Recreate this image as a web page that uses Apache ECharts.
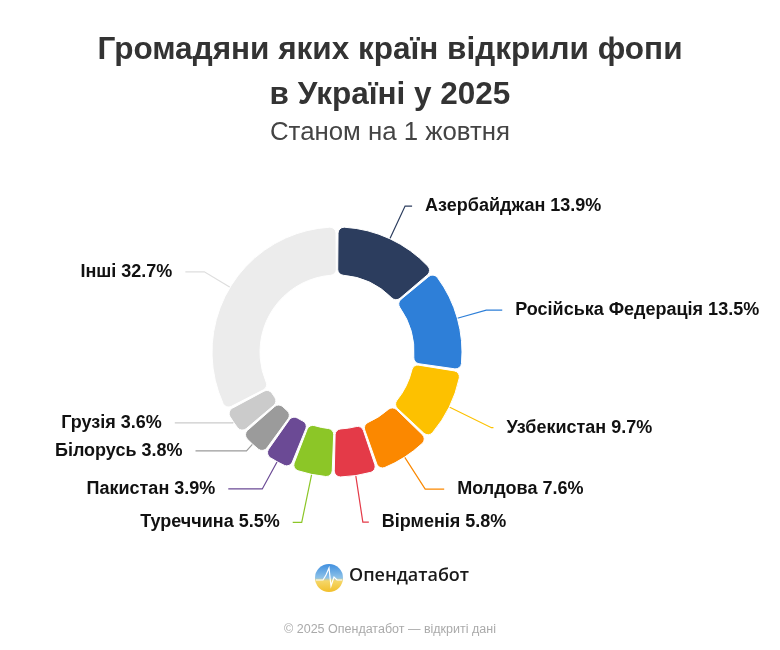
<!DOCTYPE html>
<html>
<head>
<meta charset="utf-8">
<script src="https://cdn.jsdelivr.net/npm/echarts@6/dist/echarts.min.js"></script>
<style>
  html, body { margin: 0; padding: 0; background: #fff; }
  #chart { width: 780px; height: 650px; }
</style>
</head>
<body>
<div id="chart"></div>
<script>
// дані з картинки, по годинниковій стрілці від верху
var countries = ["Азербайджан", "Російська Федерація", "Узбекистан", "Молдова", "Вірменія",
  "Туреччина", "Пакистан", "Білорусь", "Грузія", "Інші"];
var shares = [13.9, 13.5, 9.7, 7.6, 5.8, 5.5, 3.9, 3.8, 3.6, 32.7];

// стиль: кольори та довжини ліній підписів
var colors = ["#2c3d5e", "#2e7fd8", "#fdc100", "#fb8800", "#e43a48",
  "#8cc627", "#6b4a95", "#9b9b9b", "#cbcbcb", "#ececec"];
var lineLen = [36, 30, 47, 38, 47, 49, 31, 9, 1, 30];
var lineLen2 = [7, 16, 2, 19, 6, 9, 34, 51, 58, 19];

var chart = echarts.init(document.getElementById("chart"));

var pieData = countries.map(function (name, i) {
  return {
    name: name,
    value: shares[i],
    itemStyle: { color: colors[i] },
    labelLine: {
      length: lineLen[i],
      length2: lineLen2[i],
      lineStyle: { color: colors[i] === "#ececec" ? "#dedede" : colors[i] }
    }
  };
});

var option = {
  backgroundColor: "#fff",
  animation: false,
  title: [
    {
      text: "Громадяни яких країн відкрили фопи\nв Україні у 2025",
      left: "center",
      top: 23,
      textStyle: {
        fontFamily: "Liberation Sans",
        fontWeight: "bold",
        fontSize: 31.5,
        lineHeight: 45,
        color: "#333"
      }
    },
    {
      text: "Станом на 1 жовтня",
      left: "center",
      top: 115,
      textStyle: {
        fontFamily: "Liberation Sans",
        fontWeight: "normal",
        fontSize: 25.8,
        color: "#444"
      }
    },
    {
      text: "© 2025 Опендатабот — відкриті дані",
      left: "center",
      top: 618,
      textStyle: {
        fontFamily: "Liberation Sans",
        fontWeight: "normal",
        fontSize: 12.5,
        color: "#aaa"
      }
    }
  ],
  graphic: [
    {
      type: "circle",
      shape: { cx: 329, cy: 578, r: 14 },
      style: {
        fill: new echarts.graphic.LinearGradient(0, 0, 0, 1, [
          { offset: 0, color: "#3f8fe0" },
          { offset: 0.5, color: "#8fc3e8" },
          { offset: 0.6, color: "#f5d76a" },
          { offset: 1, color: "#f2bf2a" }
        ])
      }
    },
    {
      type: "polyline",
      shape: { points: [[316, 580], [323, 580], [326, 575], [329, 568], [331, 586], [334, 577], [337, 580], [342, 580]] },
      style: { stroke: "#fff", lineWidth: 1.2, fill: null }
    },
    {
      type: "text",
      left: 349,
      top: 567,
      style: {
        text: "Опендатабот",
        font: "600 18px 'Open Sans'",
        fill: "#1a1a1a"
      }
    }
  ],
  series: [
    {
      type: "pie",
      center: [337, 352],
      radius: [77, 125],
      startAngle: 90,
      clockwise: true,
      padAngle: 1,
      avoidLabelOverlap: false,
      itemStyle: {
        borderRadius: 6,
        borderColor: "#fff",
        borderWidth: 1
      },
      label: {
        formatter: "{b} {c}%",
        fontFamily: "Liberation Sans",
        fontWeight: "bold",
        fontSize: 18,
        color: "#111",
        distanceToLabelLine: 13
      },
      labelLine: {
        show: true,
        lineStyle: { width: 1.2 }
      },
      data: pieData
    }
  ]
};

chart.setOption(option);
</script>
</body>
</html>
